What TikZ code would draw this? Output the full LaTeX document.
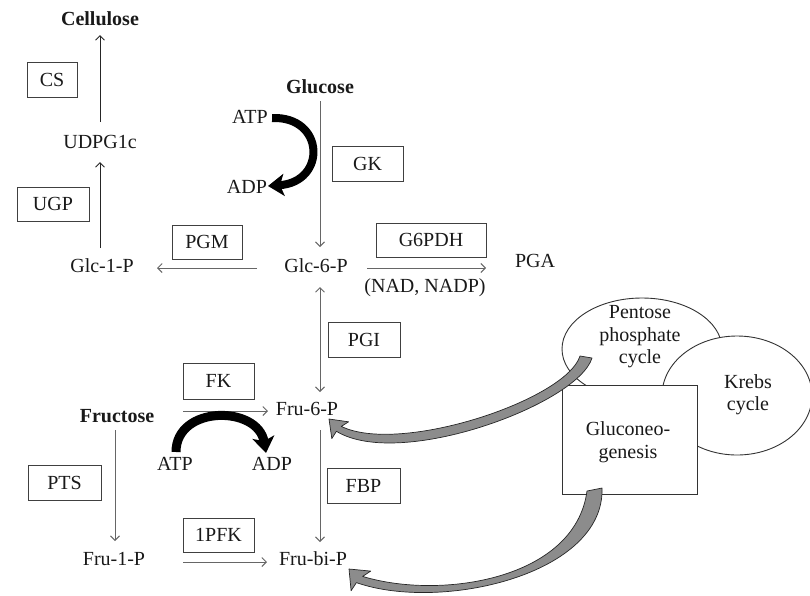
\documentclass[tikz,border=0pt]{standalone}
\usepackage{fontspec}
\setmainfont{Liberation Serif}
\usetikzlibrary{arrows.meta,calc}
\newcommand\fsz{\fontsize{20}{24}\selectfont}
\begin{document}
\begin{tikzpicture}[x=1pt,y=-1pt,
  lbl/.style={font=\fsz, inner sep=0pt, anchor=base, text=black!90},
  blbl/.style={lbl, font=\fsz\bfseries},
  enz/.style={draw=black!75, line width=1pt, minimum width=72pt, minimum height=34pt, inner sep=0pt, font=\fsz, text=black!90},
  thinarr/.style={draw=black!60, line width=1pt, -{Straight Barb[length=4.5pt,width=9pt]}},
  darkarr/.style={thinarr, draw=black!85},
  fat/.style={draw=black, line width=8pt, -{Stealth[length=16pt,width=22pt,inset=4pt]}},
  cyc/.style={draw=black!80, line width=0.9pt, fill=white},
  grayarr/.style={fill=black!45, draw=black!85, line width=0.7pt, line join=round}
]
\useasboundingbox (0,0) rectangle (810,595);

% right side cycles
\draw[cyc] (642,349) ellipse [x radius=80pt, y radius=51pt];
\draw[cyc] (737,395.5) ellipse [x radius=75pt, y radius=59.5pt];
\node[draw=black!80, line width=0.9pt, fill=white, minimum width=135pt, minimum height=109pt, inner sep=0pt] (gluco) at (629.5,439.5) {};
\node[lbl] (pen1) at (640,318) {Pentose};
\node[lbl] (pen2) at (640,341) {phosphate};
\node[lbl] (pen3) at (640,363) {cycle};
\node[lbl] (kr1) at (748,388) {Krebs};
\node[lbl] (kr2) at (748,410) {cycle};
\node[lbl] (gl1) at (628,435) {Gluconeo-};
\node[lbl] (gl2) at (628,458) {genesis};

% labels and enzymes
\node[blbl] (cell) at (100,25) {Cellulose};
\node[enz, minimum width=50pt, minimum height=35pt] (cs) at (52,79.5) {CS};
\node[lbl] (udpg) at (100,148) {UDPG1c};
\node[enz] (ugp) at (53,204) {UGP};
\node[lbl] (glc1) at (102,272) {Glc-1-P};
\node[enz, minimum width=70pt] (pgm) at (207,242) {PGM};
\node[lbl] (glc6) at (316,272) {Glc-6-P};
\node[blbl] (gluc) at (320,93) {Glucose};
\node[lbl] (atpa) at (250,123) {ATP};
\node[lbl] (adpa) at (247,193) {ADP};
\node[enz, minimum width=71pt, minimum height=35pt] (gk) at (367.5,163.5) {GK};
\node[enz, minimum width=110pt] (g6pdh) at (431,240) {G6PDH};
\node[lbl] (pga) at (535,267) {PGA};
\node[lbl] (nad) at (425,292) {(NAD, NADP)};
\node[enz, minimum height=35pt] (pgi) at (364,339.5) {PGI};
\node[enz, minimum width=71pt, minimum height=36pt] (fk) at (218.5,381) {FK};
\node[blbl] (fruc) at (117,422) {Fructose};
\node[lbl] (fru6) at (307,415) {Fru-6-P};
\node[lbl] (atpb) at (175,470) {ATP};
\node[lbl] (adpb) at (272,470) {ADP};
\node[enz, minimum width=73pt, minimum height=35pt] (fbp) at (363.5,485.5) {FBP};
\node[enz, minimum width=73pt, minimum height=35pt] (pts) at (64.5,482.5) {PTS};
\node[enz, minimum width=71pt, minimum height=34pt] (pfk) at (218.5,535) {1PFK};
\node[lbl] (fru1) at (114,565) {Fru-1-P};
\node[lbl] (frubi) at (313,565) {Fru-bi-P};

% thin arrows
\draw[darkarr] ($(udpg.base)+(0,-26)$) -- ($(cell.base)+(0,10)$);
\draw[darkarr] ($(glc1.base)+(-2,-24)$) -- ($(udpg.base)+(0,14)$);
\draw[thinarr] ($(glc6.base)+(-59,-4)$) -- ($(glc1.base)+(55,-4)$);
\draw[thinarr] ($(gluc.base)+(0,8)$) -- ($(glc6.base)+(4,-25)$);
\draw[thinarr] ($(glc6.base)+(51,-4)$) -- ($(pga.base)+(-49,1)$);
\draw[thinarr, {Straight Barb[length=4.5pt,width=9pt]}-{Straight Barb[length=4.5pt,width=9pt]}] ($(glc6.base)+(4,15)$) -- ($(fru6.base)+(13,-23)$);
\draw[thinarr] ($(fruc.base)+(66,-11)$) -- ($(fru6.base)+(-39,-4)$);
\draw[thinarr] ($(fru6.base)+(13,15)$) -- ($(frubi.base)+(7,-23)$);
\draw[thinarr] ($(fruc.base)+(-2,8)$) -- ($(fru1.base)+(1,-24)$);
\draw[thinarr] ($(fru1.base)+(69,-3)$) -- ($(frubi.base)+(-46,-3)$);

% thick ATP/ADP arrows
\draw[fat] ($(atpa.base)+(22,-5)$) .. controls +(53,-2) and +(59,-4) .. ($(adpa.base)+(21,-7)$);
\draw[fat, line width=9pt] ($(atpb.base)+(1,-18)$) .. controls +(0,-47) and +(-8,-48) .. ($(adpb.base)+(-6,-17)$);

% gray arrows
\draw[grayarr] (580,356) .. controls (566,400) and (400,455) .. (341.3,426.4)
  -- (348.6,421.8) -- (329,419) -- (331.8,438.6) -- (336.4,431.3)
  .. controls (400,470) and (578,404) .. (592,358) -- cycle;
\draw[grayarr] (587,491) .. controls (575,580) and (440,600) .. (362.6,576.4)
  -- (370.7,571.1) -- (349,569) -- (351.1,590.7) -- (356.4,582.6)
  .. controls (440,612) and (605,575) .. (602,488) -- cycle;
\end{tikzpicture}
\end{document}
